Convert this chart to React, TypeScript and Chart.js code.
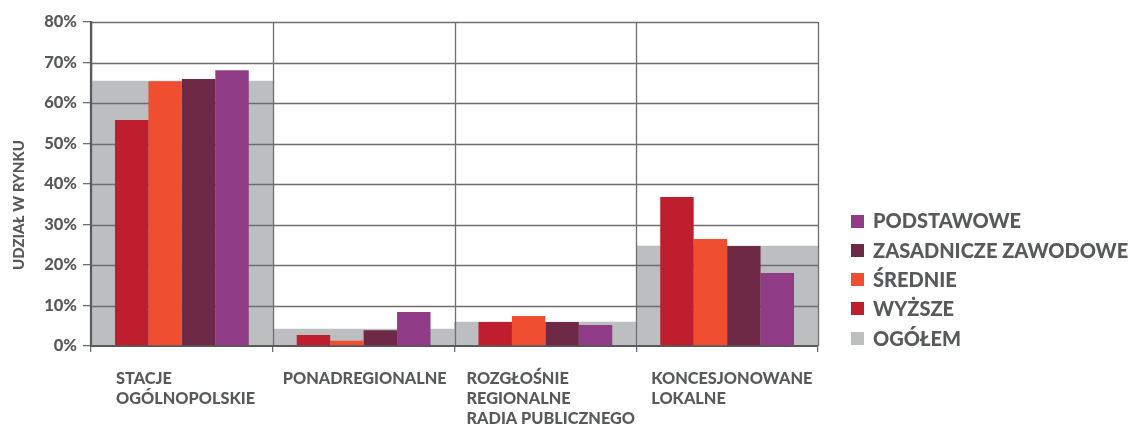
import React, { useEffect, useRef } from "react";
import { Chart, registerables } from "chart.js";

Chart.register(...registerables);

const categories: string[][] = [
  ["STACJE", "OGÓLNOPOLSKIE"],
  ["PONADREGIONALNE"],
  ["ROZGŁOŚNIE", "REGIONALNE", "RADIA PUBLICZNEGO"],
  ["KONCESJONOWANE", "LOKALNE"],
];
const ogolem = [65.4, 4.2, 5.9, 24.7];
const wyzsze = [55.8, 2.7, 5.9, 36.8];
const srednie = [65.4, 1.3, 7.4, 26.4];
const zasadnicze = [65.9, 3.9, 5.9, 24.7];
const podstawowe = [68.1, 8.4, 5.2, 18.0];
const yTicks = [0, 10, 20, 30, 40, 50, 60, 70, 80];
const yTitle = "UDZIAŁ W RYNKU";
const legendOrder = ["PODSTAWOWE", "ZASADNICZE ZAWODOWE", "ŚREDNIE", "WYŻSZE", "OGÓŁEM"];

const TEXT = "#58595b";
const GRID = "#6d6e71";
const FONT = "Lato, 'Open Sans', sans-serif";
const labelInset = [25, 10, 12, 15];

export default function App() {
  const ref = useRef<HTMLCanvasElement | null>(null);
  useEffect(() => {
    if (!ref.current) return;
    const datasets: any[] = [
      { label: "WYŻSZE", data: wyzsze, backgroundColor: "#be1e2d", order: 0, categoryPercentage: 0.736, barPercentage: 1 },
      { label: "ŚREDNIE", data: srednie, backgroundColor: "#f04e30", order: 0, categoryPercentage: 0.736, barPercentage: 1 },
      { label: "ZASADNICZE ZAWODOWE", data: zasadnicze, backgroundColor: "#6d2945", order: 0, categoryPercentage: 0.736, barPercentage: 1 },
      { label: "PODSTAWOWE", data: podstawowe, backgroundColor: "#8f3b86", order: 0, categoryPercentage: 0.736, barPercentage: 1 },
      { label: "OGÓŁEM", data: ogolem, backgroundColor: "#bcbec0", order: 1, grouped: false, categoryPercentage: 1, barPercentage: 1 },
    ];
    const greyIndex = 4;

    const gridPlugin = {
      id: "gridOverGrey",
      afterDatasetDraw(chart: any, args: any) {
        if (args.index !== greyIndex) return;
        const { ctx, chartArea, scales } = chart;
        ctx.save();
        ctx.strokeStyle = GRID;
        ctx.lineWidth = 1.3;
        scales.y.ticks.forEach((t: any) => {
          if (t.value === 0) return;
          const y = Math.round(scales.y.getPixelForValue(t.value)) + 0.5;
          ctx.beginPath();
          ctx.moveTo(chartArea.left, y);
          ctx.lineTo(chartArea.right, y);
          ctx.stroke();
        });
        const n = categories.length;
        const w = (chartArea.right - chartArea.left) / n;
        for (let i = 1; i <= n; i++) {
          const c = scales.x.getPixelForValue(i - 1);
          const x = Math.round(c + w / 2) + 0.5;
          ctx.beginPath();
          ctx.moveTo(x, chartArea.top);
          ctx.lineTo(x, chartArea.bottom);
          ctx.stroke();
        }
        ctx.strokeStyle = TEXT;
        ctx.lineWidth = 2.2;
        ctx.beginPath();
        ctx.moveTo(chartArea.left, chartArea.top);
        ctx.lineTo(chartArea.left, chartArea.bottom + 1);
        ctx.stroke();
        ctx.lineWidth = 2;
        ctx.beginPath();
        ctx.moveTo(chartArea.left, chartArea.bottom);
        ctx.lineTo(chartArea.right, chartArea.bottom);
        ctx.stroke();
        ctx.restore();
      },
    };

    const extrasPlugin = {
      id: "extras",
      afterDraw(chart: any) {
        const { ctx, chartArea, scales } = chart;
        // y title
        ctx.save();
        ctx.fillStyle = TEXT;
        ctx.font = `900 15px ${FONT}`;
        ctx.textAlign = "center";
        ctx.textBaseline = "middle";
        ctx.translate(19, 205);
        ctx.rotate(-Math.PI / 2);
        ctx.fillText(yTitle, 0, 0);
        ctx.restore();
        // category labels
        ctx.save();
        ctx.fillStyle = TEXT;
        ctx.font = `900 16.3px ${FONT}`;
        ctx.textAlign = "left";
        ctx.textBaseline = "alphabetic";
        const n = categories.length;
        const w = (chartArea.right - chartArea.left) / n;
        categories.forEach((lines, i) => {
          const left = scales.x.getPixelForValue(i) - w / 2;
          lines.forEach((line, j) => {
            ctx.fillText(line, left + labelInset[i], chartArea.bottom + 38 + j * 20);
          });
        });
        ctx.restore();
        // legend
        ctx.save();
        ctx.font = `900 20px ${FONT}`;
        ctx.textAlign = "left";
        ctx.textBaseline = "middle";
        const lx = chartArea.right + 33;
        const y0 = 221;
        legendOrder.forEach((name, i) => {
          const ds = chart.data.datasets.find((d: any) => d.label === name);
          const y = y0 + i * 29.3;
          ctx.fillStyle = ds.backgroundColor;
          ctx.fillRect(lx, Math.round(y - 6.5), 13, 13);
          ctx.fillStyle = TEXT;
          ctx.fillText(name, lx + 22, y + 1);
        });
        ctx.restore();
      },
    };

    const chart = new Chart(ref.current, {
      type: "bar",
      data: { labels: categories, datasets },
      options: {
        animation: false,
        responsive: true,
        maintainAspectRatio: false,
        layout: { padding: { top: 22, right: 313, bottom: 0, left: 0 } },
        plugins: { legend: { display: false }, tooltip: { enabled: false } },
        scales: {
          x: {
            afterFit: (s: any) => { s.height = 81; },
            grid: { display: true, drawOnChartArea: false, drawTicks: true, tickLength: 6, color: GRID, lineWidth: 1.3, offset: true },
            border: { display: true, color: TEXT, width: 2 },
            ticks: { display: false },
          },
          y: {
            min: 0,
            max: 80,
            afterFit: (s: any) => { s.width = 91; },
            afterBuildTicks: (s: any) => { s.ticks = yTicks.map((v) => ({ value: v })); },
            grid: { display: true, drawOnChartArea: false, drawTicks: true, tickLength: 8, color: GRID, lineWidth: 1.3 },
            border: { display: true, color: TEXT, width: 2.2 },
            ticks: {
              color: TEXT,
              font: { family: FONT, weight: "900", size: 16.5 },
              padding: 6,
              callback: (v: any) => `${v}%`,
            },
          },
        },
      },
      plugins: [gridPlugin, extrasPlugin],
    });
    return () => chart.destroy();
  }, []);

  return (
    <div style={{ position: "fixed", left: 0, top: 0, width: 1131, height: 427 }}>
      <canvas ref={ref} />
    </div>
  );
}
